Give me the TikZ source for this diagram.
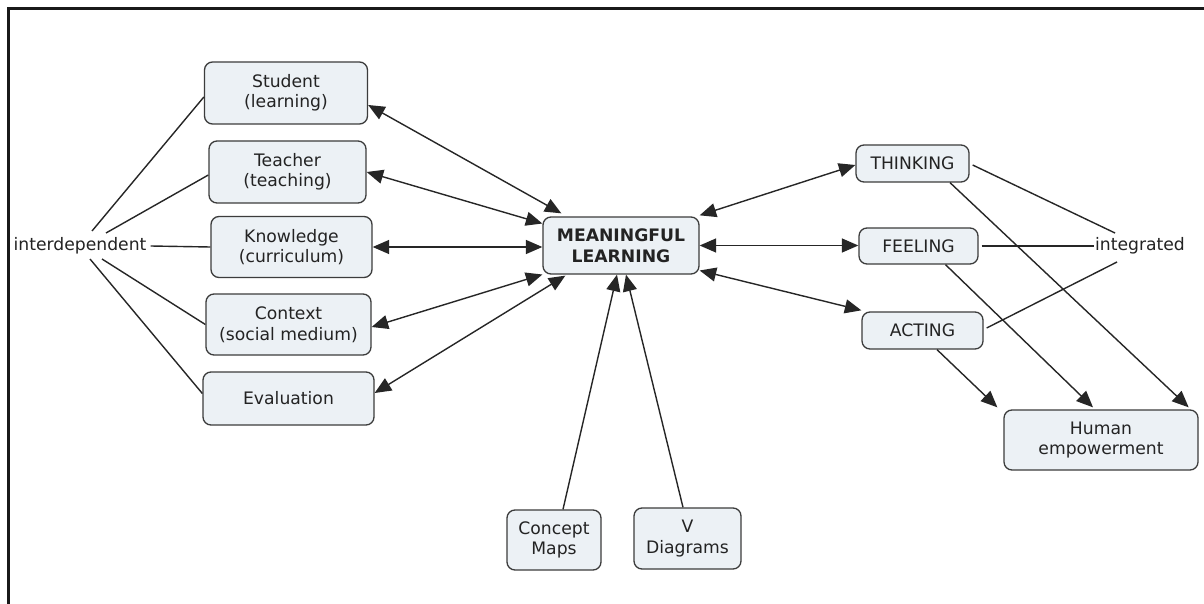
\documentclass[tikz,border=0pt]{standalone}
\usepackage{fontspec}
\setmainfont{DejaVu Sans}
\usetikzlibrary{arrows.meta}
\definecolor{boxfill}{RGB}{236,241,245}
\definecolor{boxline}{RGB}{60,60,60}
\definecolor{txt}{RGB}{35,35,35}
\tikzset{
  cbox/.style={draw=boxline, fill=boxfill, rounded corners=8pt, line width=1.3pt,
    align=center, inner sep=0pt, text=txt, font=\fontsize{17.2}{20.5}\selectfont},
  plain/.style={inner sep=1pt, text=txt, font=\fontsize{17.2}{20.5}\selectfont},
  link/.style={line width=1.4pt, draw=black!85},
  arr/.style={link, -{Triangle[length=16.5pt,width=14pt]}},
  biarr/.style={link, {Triangle[length=16.5pt,width=14pt]}-{Triangle[length=16.5pt,width=14pt]}},
}
\begin{document}
\begin{tikzpicture}[x=1pt,y=-1pt]
\fill[white] (0,0) rectangle (1204,604);
\useasboundingbox (0,0) rectangle (1204,604);
\draw[line width=2.5pt, black!90] (8.5,604) -- (8.5,8.5) -- (1204,8.5);

% left column
\node[cbox, minimum width=163pt, minimum height=62pt] (student) at (286,93) {Student\\(learning)};
\node[cbox, minimum width=157pt, minimum height=62pt] (teacher) at (287.5,172) {Teacher\\(teaching)};
\node[cbox, minimum width=161pt, minimum height=61pt] (knowledge) at (291.5,247) {Knowledge\\(curriculum)};
\node[cbox, minimum width=165pt, minimum height=61pt] (context) at (288.5,324.5) {Context\\(social medium)};
\node[cbox, minimum width=171pt, minimum height=53pt] (evaluation) at (288.5,398.5) {Evaluation};
\node[plain] (interdep) at (80,246) {interdependent};

% centre
\node[cbox, minimum width=156pt, minimum height=57pt, font=\fontsize{17.2}{20.5}\selectfont\bfseries] (ml) at (621,245.5) {MEANINGFUL\\LEARNING};
\node[cbox, minimum width=94pt, minimum height=60pt] (concept) at (554,540) {Concept\\Maps};
\node[cbox, minimum width=107pt, minimum height=61pt] (vdiag) at (687.5,538.5) {V\\Diagrams};

% right
\node[cbox, minimum width=113pt, minimum height=37pt] (thinking) at (912.5,163.5) {THINKING};
\node[cbox, minimum width=119pt, minimum height=36pt] (feeling) at (918.5,246) {FEELING};
\node[cbox, minimum width=121pt, minimum height=37pt] (acting) at (922.5,330.5) {ACTING};
\node[cbox, minimum width=194pt, minimum height=60pt] (he) at (1101,440) {Human\\empowerment};
\node[plain] (integrated) at (1140,246) {integrated};

% interdependent links
\coordinate (i1) at (92,231);
\coordinate (i2) at (106,233);
\coordinate (i4) at (102,259);
\coordinate (i5) at (90,259);
\draw[link] (i1) -- ([yshift=-4pt]student.west);
\draw[link] (i2) -- ([yshift=-3pt]teacher.west);
\draw[link] ([xshift=3pt]interdep.east) -- (knowledge.west);
\draw[link] (i4) -- (context.west);
\draw[link] (i5) -- ([yshift=5pt]evaluation.west);

% arrows to meaningful learning
\draw[biarr] ([yshift=-12pt]student.east) -- ([xshift=19pt,yshift=3pt]ml.north west);
\draw[biarr] (teacher.east) -- ([yshift=22pt]ml.west);
\draw[biarr] (knowledge.east) -- (knowledge.east -| ml.west);
\draw[biarr] ([yshift=-2.5pt]context.east) -- ([yshift=-29pt]ml.west);
\draw[biarr] ([yshift=5.5pt]evaluation.east) -- ([xshift=23pt,yshift=-1pt]ml.south west);
\draw[arr] ([xshift=9pt]concept.north) -- ([xshift=-4pt]ml.south);
\draw[arr] ([xshift=-4.5pt]vdiag.north) -- ([xshift=5pt]ml.south);

\draw[biarr] ([yshift=1pt]ml.north east) -- ([yshift=-1.5pt]thinking.west);
\draw[biarr] (ml.east) -- (ml.east -| feeling.west);
\draw[biarr] ([yshift=-25pt]ml.east) -- ([yshift=1pt]acting.north west);

% integrated links
\draw[link] ([xshift=3pt,yshift=-1.5pt]thinking.east) -- ([xshift=-25pt,yshift=13pt]integrated.center);
\draw[link] ([xshift=3pt]feeling.east) -- (integrated.west);
\draw[link] ([xshift=3pt,yshift=2.5pt]acting.east) -- ([xshift=-23pt,yshift=-16pt]integrated.center);

% empowerment arrows
\draw[arr] ([xshift=37.5pt]thinking.south) -- ([xshift=-10pt,yshift=2pt]he.north east);
\draw[arr] ([xshift=27pt]feeling.south) -- ([xshift=-8pt,yshift=2pt]he.north);
\draw[arr] ([xshift=14.5pt]acting.south) -- ([xshift=-6pt,yshift=2pt]he.north west);
\end{tikzpicture}
\end{document}
